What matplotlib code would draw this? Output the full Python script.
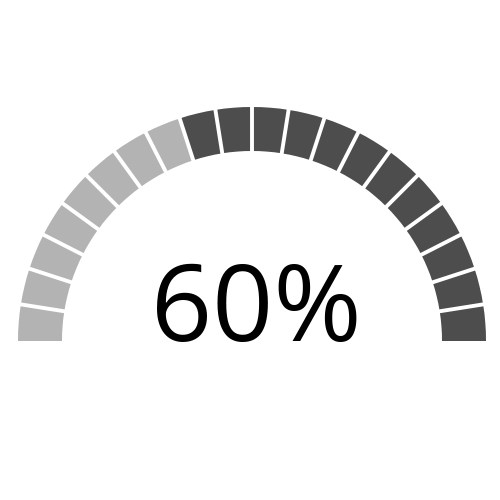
import numpy as np
import matplotlib
matplotlib.use("Agg")
import matplotlib.pyplot as plt
from matplotlib.patches import Wedge

value = 60
n_segments = 20
label = "60%"
color_on = "#4d4d4d"
color_off = "#b3b3b3"

fig = plt.figure(figsize=(5, 5), dpi=100)
ax = fig.add_axes([0, 0, 1, 1])
ax.set_xlim(0, 500)
ax.set_ylim(0, 500)
ax.set_aspect("equal")
ax.axis("off")

cx, cy = 252, 159
r_out, r_in = 234, 190
step = 180.0 / n_segments
n_on = int(round(value / 100 * n_segments))

for j in range(n_segments):
    t1, t2 = j * step, (j + 1) * step
    col = color_on if j < n_on else color_off
    ax.add_patch(Wedge((cx, cy), r_out, t1, t2, width=r_out - r_in,
                       facecolor=col, edgecolor="none", antialiased=True))

for j in range(1, n_segments):
    a = np.deg2rad(j * step)
    ax.plot([cx + (r_in - 3) * np.cos(a), cx + (r_out + 3) * np.cos(a)],
            [cy + (r_in - 3) * np.sin(a), cy + (r_out + 3) * np.sin(a)],
            color="white", lw=2.8, solid_capstyle="butt")

ax.text(256, cy, label, ha="center", va="baseline", fontsize=77,
        family=["Open Sans", "DejaVu Sans"], color="black")

fig.savefig("out.png", dpi=100, facecolor="white")
